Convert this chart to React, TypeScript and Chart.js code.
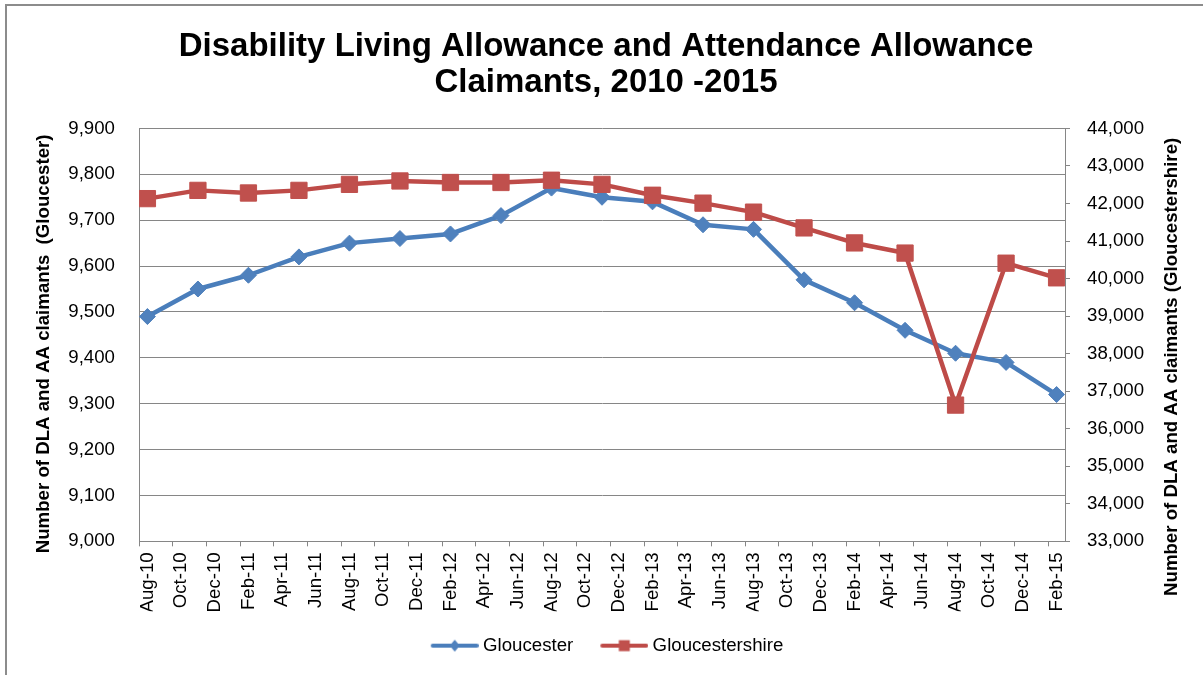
import { useEffect, useRef } from 'react';
import { Chart, registerables } from 'chart.js';

Chart.register(...registerables);

const TITLE_LINES = ['Disability Living Allowance and Attendance Allowance', 'Claimants, 2010 -2015'];
const LEFT_AXIS_TITLE = 'Number of DLA and AA claimants  (Gloucester)';
const RIGHT_AXIS_TITLE = 'Number of DLA and AA claimants (Gloucestershire)';

// x-axis tick labels (every 2 months)
const tickLabels = [
  'Aug-10', 'Oct-10', 'Dec-10', 'Feb-11', 'Apr-11', 'Jun-11', 'Aug-11', 'Oct-11', 'Dec-11',
  'Feb-12', 'Apr-12', 'Jun-12', 'Aug-12', 'Oct-12', 'Dec-12', 'Feb-13', 'Apr-13', 'Jun-13',
  'Aug-13', 'Oct-13', 'Dec-13', 'Feb-14', 'Apr-14', 'Jun-14', 'Aug-14', 'Oct-14', 'Dec-14', 'Feb-15',
];

// quarterly observation dates
const quarters = [
  'Aug-10', 'Nov-10', 'Feb-11', 'May-11', 'Aug-11', 'Nov-11', 'Feb-12', 'May-12', 'Aug-12',
  'Nov-12', 'Feb-13', 'May-13', 'Aug-13', 'Nov-13', 'Feb-14', 'May-14', 'Aug-14', 'Nov-14', 'Feb-15',
];

const gloucester = [
  9490, 9550, 9580, 9620, 9650, 9660, 9670, 9710, 9770,
  9750, 9740, 9690, 9680, 9570, 9520, 9460, 9410, 9390, 9320,
];

const gloucestershire = [
  42130, 42350, 42280, 42350, 42510, 42600, 42560, 42560, 42620,
  42510, 42220, 42010, 41770, 41350, 40950, 40680, 36630, 40410, 40020,
];

const leftTicks = { min: 9000, max: 9900, step: 100 };
const rightTicks = { min: 33000, max: 44000, step: 1000 };

const MONTHS = ['Jan', 'Feb', 'Mar', 'Apr', 'May', 'Jun', 'Jul', 'Aug', 'Sep', 'Oct', 'Nov', 'Dec'];
const START = 'Aug-10';
const monthIndex = (label: string) => {
  const [m, y] = label.split('-');
  return parseInt(y, 10) * 12 + MONTHS.indexOf(m);
};
// centre of the month, counted from the start of the axis
const toX = (label: string) => monthIndex(label) - monthIndex(START) + 0.5;
const AXIS_MONTHS = monthIndex(tickLabels[tickLabels.length - 1]) - monthIndex(START) + 1;

const FONT = "'Liberation Sans', Arial, sans-serif";
const GRID = '#868686';
const BLUE_LINE = '#4A7EBB';
const BLUE_MARK = '#4F81BD';
const RED_LINE = '#BE4B48';
const RED_MARK = '#C0504D';

function legendImage(line: string, fill: string, shape: 'diamond' | 'square') {
  const c = document.createElement('canvas');
  c.width = 55;
  c.height = 16;
  const g = c.getContext('2d')!;
  g.strokeStyle = line;
  g.lineWidth = 4;
  g.lineCap = 'round';
  g.beginPath();
  g.moveTo(9, 8);
  g.lineTo(53, 8);
  g.stroke();
  g.fillStyle = fill;
  const cx = 31;
  if (shape === 'diamond') {
    g.beginPath();
    g.moveTo(cx, 2);
    g.lineTo(cx + 5, 8);
    g.lineTo(cx, 14);
    g.lineTo(cx - 5, 8);
    g.closePath();
    g.fill();
  } else {
    g.fillRect(cx - 5.5, 2.5, 11, 11);
  }
  return c;
}

export default function App() {
  const ref = useRef<HTMLCanvasElement | null>(null);

  useEffect(() => {
    document.body.style.margin = '0';
    const canvas = ref.current;
    if (!canvas) return;

    const imgs = [
      legendImage(BLUE_LINE, BLUE_MARK, 'diamond'),
      legendImage(RED_LINE, RED_MARK, 'square'),
    ];

    const decor = {
      id: 'decor',
      beforeDraw(chart: any) {
        const ctx = chart.ctx;
        ctx.save();
        ctx.fillStyle = '#ffffff';
        ctx.fillRect(0, 0, chart.width, chart.height);
        ctx.strokeStyle = '#8c8c8c';
        ctx.lineWidth = 2;
        ctx.strokeRect(6, 5, chart.width + 40, chart.height + 40);
        ctx.restore();
      },
      afterDraw(chart: any) {
        const ctx = chart.ctx;
        const area = chart.chartArea;
        const midY = (area.top + area.bottom) / 2;
        ctx.save();
        ctx.fillStyle = '#000';
        ctx.font = `bold 18.67px ${FONT}`;
        ctx.textAlign = 'center';
        ctx.textBaseline = 'middle';
        ctx.translate(43.5, midY + 9);
        ctx.rotate(-Math.PI / 2);
        ctx.fillText(LEFT_AXIS_TITLE, 0, 0);
        ctx.restore();
        ctx.save();
        ctx.fillStyle = '#000';
        ctx.font = `bold 18.67px ${FONT}`;
        ctx.textAlign = 'center';
        ctx.textBaseline = 'middle';
        ctx.translate(1171.5, midY + 32);
        ctx.rotate(-Math.PI / 2);
        ctx.fillText(RIGHT_AXIS_TITLE, 0, 0);
        ctx.restore();
      },
    };

    const chart = new Chart(canvas, {
      type: 'line',
      data: {
        datasets: [
          {
            label: 'Gloucester',
            data: quarters.map((q, i) => ({ x: toX(q), y: gloucester[i] })),
            yAxisID: 'yL',
            borderColor: BLUE_LINE,
            backgroundColor: BLUE_MARK,
            borderWidth: 4.5,
            pointStyle: 'rectRot',
            pointRadius: 8,
            pointBackgroundColor: BLUE_MARK,
            pointBorderColor: BLUE_MARK,
            pointBorderWidth: 1,
            borderJoinStyle: 'round',
            borderCapStyle: 'round',
            tension: 0,
            order: 2,
          },
          {
            label: 'Gloucestershire',
            data: quarters.map((q, i) => ({ x: toX(q), y: gloucestershire[i] })),
            yAxisID: 'yR',
            borderColor: RED_LINE,
            backgroundColor: RED_MARK,
            borderWidth: 4.5,
            pointStyle: 'rect',
            pointRadius: 11.5,
            pointBackgroundColor: RED_MARK,
            pointBorderColor: RED_MARK,
            pointBorderWidth: 1,
            borderJoinStyle: 'round',
            borderCapStyle: 'round',
            tension: 0,
            order: 1,
          },
        ],
      },
      options: {
        responsive: false,
        animation: false,
        events: [],
        layout: { padding: { left: 10, right: 1, top: 4, bottom: 10 } },
        font: { family: FONT, size: 18.67 },
        color: '#000',
        plugins: {
          tooltip: { enabled: false },
          title: {
            display: true,
            text: TITLE_LINES,
            color: '#000',
            font: { family: FONT, size: 33, weight: 'bold', lineHeight: 1.09 },
            padding: { top: 24.5, bottom: 28 },
          },
          legend: {
            display: true,
            position: 'bottom',
            labels: {
              usePointStyle: true,
              pointStyleWidth: 45,
              padding: 25,
              color: '#000',
              font: { family: FONT, size: 18.67 },
              generateLabels: (ch: any) => {
                const items = (Chart.defaults.plugins.legend.labels as any).generateLabels(ch);
                items.forEach((it: any) => {
                  it.pointStyle = imgs[it.datasetIndex];
                });
                return items.sort((a: any, b: any) => a.datasetIndex - b.datasetIndex);
              },
            },
          },
        },
        scales: {
          x: {
            type: 'linear',
            min: 0,
            max: AXIS_MONTHS,
            afterBuildTicks: (scale: any) => {
              scale.ticks = tickLabels.map((_, i) => ({ value: i * 2 }));
            },
            afterFit: (scale: any) => {
              scale.height = 70;
            },
            grid: { drawOnChartArea: false, drawTicks: true, tickLength: 5, color: GRID, lineWidth: 1 },
            border: { display: true, color: GRID, width: 1 },
            ticks: {
              autoSkip: false,
              maxRotation: 90,
              minRotation: 90,
              padding: 6,
              labelOffset: 8.42,
              color: '#000',
              font: { family: FONT, size: 18.67 },
              callback: (_v: any, i: number) => tickLabels[i],
            },
          },
          yL: {
            type: 'linear',
            position: 'left',
            min: leftTicks.min,
            max: leftTicks.max,
            afterFit: (scale: any) => {
              scale.width = 129;
            },
            grid: { drawOnChartArea: true, drawTicks: false, color: GRID, lineWidth: 1 },
            border: { display: true, color: GRID, width: 1 },
            ticks: {
              stepSize: leftTicks.step,
              padding: 24,
              color: '#000',
              font: { family: FONT, size: 18.67 },
              callback: (v: any) => Number(v).toLocaleString('en-US'),
            },
          },
          yR: {
            type: 'linear',
            position: 'right',
            min: rightTicks.min,
            max: rightTicks.max,
            afterFit: (scale: any) => {
              scale.width = 137;
            },
            grid: { drawOnChartArea: false, drawTicks: true, tickLength: 5, color: GRID, lineWidth: 1 },
            border: { display: true, color: GRID, width: 1 },
            ticks: {
              stepSize: rightTicks.step,
              padding: 17,
              color: '#000',
              font: { family: FONT, size: 18.67 },
              callback: (v: any) => Number(v).toLocaleString('en-US'),
            },
          },
        },
      },
      plugins: [decor],
    } as any);

    return () => {
      chart.destroy();
    };
  }, []);

  return (
    <div style={{ position: 'absolute', left: 0, top: 0, width: 1203, height: 675 }}>
      <canvas ref={ref} width={1203} height={675} style={{ display: 'block' }} />
    </div>
  );
}
